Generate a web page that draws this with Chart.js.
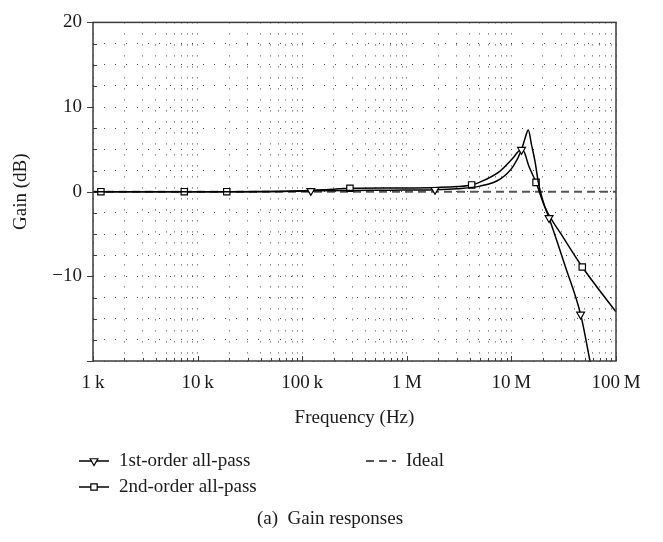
<!DOCTYPE html>
<html>
<head>
<meta charset="utf-8">
<script src="https://cdn.jsdelivr.net/npm/chart.js@4.4.1/dist/chart.umd.min.js"></script>
<style>
  html, body { margin: 0; padding: 0; background: #fff; }
  #wrap { width: 663px; height: 542px; }
</style>
</head>
<body>
<div id="wrap"><canvas id="gainChart" width="663" height="542"></canvas></div>
<script>
// Gain responses (dB) versus frequency (Hz)
const decades = [1e3, 1e4, 1e5, 1e6, 1e7, 1e8];
const decadeLabels = ['1\u2009k', '10\u2009k', '100\u2009k', '1\u2009M', '10\u2009M', '100\u2009M'];
const gainTicks = [20, 10, 0, -10];
const gainTickLabels = ['20', '10', '0', '\u221210'];

const firstFreq = [1e3, 1e4, 3e4, 6e4, 1.21e5, 3e5, 7e5, 1.86e6, 3e6, 5e6, 7.8e6, 1.04e7, 1.25e7, 1.35e7, 1.45e7, 1.56e7, 1.68e7, 1.81e7, 1.95e7, 2.09e7, 2.29e7, 3.27e7, 4.59e7, 5.64e7, 6.5e7];
const firstGain = [0, 0, 0, 0.03, 0.1, 0.15, 0.18, 0.23, 0.35, 0.66, 1.5, 3.0, 4.96, 6.3, 7.3, 5.5, 3.6, 1.1, -0.6, -1.8, -3.1, -8.8, -14.5, -20, -24];
const firstMarkers = [1.21e5, 1.86e6, 1.25e7, 2.29e7, 4.59e7];

const secondFreq = [1e3, 1.19e3, 7.46e3, 1.9e4, 5e4, 1e5, 2e5, 2.86e5, 6e5, 1.2e6, 2.5e6, 4.17e6, 5e6, 7.8e6, 1.04e7, 1.2e7, 1.3e7, 1.47e7, 1.72e7, 2.09e7, 3.13e7, 4.76e7, 1e8];
const secondGain = [0, 0, 0, 0, 0.02, 0.1, 0.3, 0.4, 0.45, 0.45, 0.55, 0.8, 1.13, 2.44, 4.0, 4.85, 4.8, 3.0, 1.1, -1.8, -5.4, -8.9, -14.2];
const secondMarkers = [1.19e3, 7.46e3, 1.9e4, 2.86e5, 4.17e6, 1.72e7, 4.76e7];

const idealFreq = [1e3, 1e8];
const idealGain = [0, 0];

const FONT = "'Liberation Serif', 'DejaVu Serif', serif";
const INK = '#1a1a1a';

function toPoints(xs, ys) {
    return xs.map((x, i) => ({ x: x, y: ys[i] }));
}

// box, tick marks, legend and caption
const framePlugin = {
    id: 'frame',
    afterDatasetsDraw(chart) {
        const { ctx, chartArea: a, scales: { x, y } } = chart;
        ctx.save();
        ctx.strokeStyle = '#3c3c3c';
        ctx.lineWidth = 1.5;
        ctx.strokeRect(a.left, a.top, a.right - a.left, a.bottom - a.top);

        ctx.lineWidth = 1;
        ctx.beginPath();
        y.ticks.forEach(t => {
            const py = Math.round(y.getPixelForValue(t.value)) + 0.5;
            if (t.value % 10 === 0) {
                ctx.moveTo(a.left - 6, py);
                ctx.lineTo(a.left, py);
            } else {
                ctx.moveTo(a.left, py);
                ctx.lineTo(a.left + 4, py);
            }
        });
        x.ticks.forEach(t => {
            const px = Math.round(x.getPixelForValue(t.value)) + 0.5;
            const major = decades.includes(t.value);
            ctx.moveTo(px, a.bottom);
            ctx.lineTo(px, a.bottom - (major ? 5 : 3));
        });
        ctx.stroke();
        ctx.restore();
    },
    afterDraw(chart) {
        const { ctx } = chart;
        const sets = chart.data.datasets;
        const items = [
            { ds: sets[0], x: 79, y: 461 },
            { ds: sets[2], x: 366, y: 461 },
            { ds: sets[1], x: 79, y: 487 }
        ];
        ctx.save();
        ctx.font = '19px ' + FONT;
        ctx.textBaseline = 'middle';
        ctx.fillStyle = INK;
        items.forEach(it => {
            const ds = it.ds;
            ctx.save();
            ctx.strokeStyle = ds.borderColor;
            ctx.lineWidth = ds.borderWidth;
            ctx.setLineDash(ds.borderDash || []);
            ctx.beginPath();
            ctx.moveTo(it.x, it.y);
            ctx.lineTo(it.x + 30, it.y);
            ctx.stroke();
            ctx.restore();
            if (ds.pointStyle) {
                ctx.save();
                ctx.fillStyle = '#fff';
                ctx.strokeStyle = '#000';
                ctx.lineWidth = 1.2;
                Chart.helpers.drawPoint(ctx, {
                    pointStyle: ds.pointStyle,
                    rotation: ds.pointRotation || 0,
                    radius: 4.5,
                    borderWidth: 1.2
                }, it.x + 15, it.y);
                ctx.restore();
            }
            ctx.fillText(ds.label, it.x + 40, it.y);
        });
        ctx.textAlign = 'center';
        ctx.fillText('(a)\u2002Gain responses', 330, 519);
        ctx.restore();
    }
};

new Chart(document.getElementById('gainChart'), {
    type: 'line',
    data: {
        datasets: [{
            label: '1st-order all-pass',
            data: toPoints(firstFreq, firstGain),
            borderColor: '#000',
            borderWidth: 1.5,
            cubicInterpolationMode: 'monotone',
            pointStyle: 'triangle',
            pointRotation: 180,
            pointRadius: c => firstMarkers.includes(firstFreq[c.dataIndex]) ? 4.5 : 0,
            pointBackgroundColor: '#fff',
            pointBorderColor: '#000',
            pointBorderWidth: 1.2,
            clip: 1
        }, {
            label: '2nd-order all-pass',
            data: toPoints(secondFreq, secondGain),
            borderColor: '#000',
            borderWidth: 1.5,
            cubicInterpolationMode: 'monotone',
            pointStyle: 'rect',
            pointRadius: c => secondMarkers.includes(secondFreq[c.dataIndex]) ? 4.5 : 0,
            pointBackgroundColor: '#fff',
            pointBorderColor: '#000',
            pointBorderWidth: 1.2,
            clip: 1
        }, {
            label: 'Ideal',
            data: toPoints(idealFreq, idealGain),
            borderColor: '#555',
            borderWidth: 2,
            borderDash: [8, 5],
            pointRadius: 0,
            pointStyle: false,
            clip: 1
        }]
    },
    options: {
        responsive: false,
        animation: false,
        events: [],
        layout: {
            padding: { top: 15, right: 47, bottom: 0, left: 0 }
        },
        plugins: {
            legend: { display: false },
            tooltip: { enabled: false }
        },
        scales: {
            x: {
                type: 'logarithmic',
                min: 1e3,
                max: 1e8,
                afterBuildTicks: scale => {
                    const ticks = [];
                    decades.forEach((d, i) => {
                        if (i === decades.length - 1) {
                            ticks.push({ value: d });
                            return;
                        }
                        for (let m = 1; m < 10; m++) ticks.push({ value: d * m });
                    });
                    scale.ticks = ticks;
                },
                afterFit: scale => { scale.height = 181; },
                ticks: {
                    autoSkip: false,
                    maxRotation: 0,
                    padding: 11,
                    color: INK,
                    font: { family: FONT, size: 19 },
                    callback: v => {
                        const i = decades.indexOf(v);
                        return i >= 0 ? decadeLabels[i] : '';
                    }
                },
                grid: {
                    color: '#444',
                    lineWidth: 1,
                    drawTicks: false
                },
                border: { display: false, dash: [1, 10] },
                title: {
                    display: true,
                    text: 'Frequency (Hz)',
                    color: INK,
                    font: { family: FONT, size: 19 },
                    padding: { top: 0, bottom: 113 }
                }
            },
            y: {
                type: 'linear',
                min: -20,
                max: 20,
                afterFit: scale => { scale.width = 93; },
                ticks: {
                    stepSize: 2.5,
                    autoSkip: false,
                    padding: 11,
                    color: INK,
                    font: { family: FONT, size: 19 },
                    callback: v => {
                        const i = gainTicks.indexOf(v);
                        return i >= 0 ? gainTickLabels[i] : '';
                    }
                },
                grid: {
                    color: '#444',
                    lineWidth: 1,
                    drawTicks: false
                },
                border: { display: false, dash: [1, 10] },
                title: {
                    display: true,
                    text: 'Gain (dB)',
                    color: INK,
                    font: { family: FONT, size: 19 },
                    padding: { top: 10, bottom: 0 }
                }
            }
        }
    },
    plugins: [framePlugin]
});
</script>
</body>
</html>
